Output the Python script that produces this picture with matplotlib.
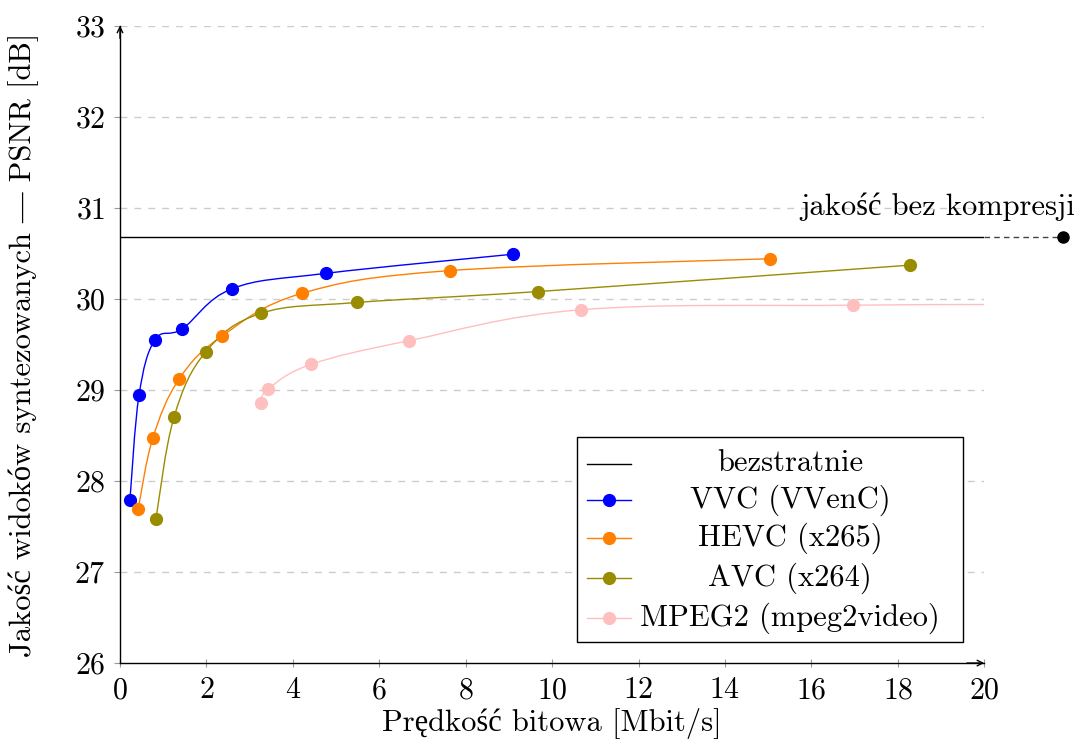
import numpy as np
import matplotlib
matplotlib.use("Agg")
import matplotlib.pyplot as plt
from matplotlib.path import Path
from matplotlib.patches import PathPatch, Rectangle

plt.rcParams['font.family'] = ['cmr10', 'Liberation Serif']
plt.rcParams['mathtext.fontset'] = 'cm'
plt.rcParams['axes.formatter.use_mathtext'] = True
plt.rcParams['axes.unicode_minus'] = False

# data (Mbit/s, dB)
vvc_x = [0.23, 0.44, 0.81, 1.44, 2.59, 4.77, 9.10]
vvc_y = [27.79, 28.94, 29.55, 29.67, 30.11, 30.28, 30.49]
hevc_x = [0.42, 0.76, 1.37, 2.36, 4.21, 7.64, 15.05]
hevc_y = [27.69, 28.47, 29.12, 29.59, 30.06, 30.31, 30.44]
avc_x = [0.83, 1.25, 1.99, 3.26, 5.49, 9.68, 18.29]
avc_y = [27.58, 28.70, 29.42, 29.84, 29.96, 30.08, 30.37]
mpeg2_x = [3.26, 3.43, 4.42, 6.69, 10.67, 16.97, 23.0]
mpeg2_y = [28.86, 29.01, 29.28, 29.54, 29.88, 29.93, 29.94]
lossless_y = 30.68
lossless_x = 21.83

series = [
    ("VVC (VVenC)", vvc_x, vvc_y, '#0000ff'),
    ("HEVC (x265)", hevc_x, hevc_y, '#ff7f00'),
    ("AVC (x264)", avc_x, avc_y, '#9a8c00'),
    ("MPEG2 (mpeg2video)", mpeg2_x, mpeg2_y, '#ffbfbf'),
]


def smooth_path(x, y, k=0.18):
    p = np.column_stack([x, y])
    n = len(p)
    verts = [p[0]]
    codes = [Path.MOVETO]
    for i in range(n - 1):
        d0 = p[i + 1] - p[i - 1] if i > 0 else p[i + 1] - p[i]
        d1 = p[i + 2] - p[i] if i < n - 2 else p[i + 1] - p[i]
        verts += [p[i] + k * d0, p[i + 1] - k * d1, p[i + 1]]
        codes += [Path.CURVE4] * 3
    return Path(verts, codes)


fig = plt.figure(figsize=(10.83, 7.45), dpi=100)
ax = fig.add_axes([0.1108, 0.110, 0.798, 0.8556])
ax.set_xlim(0, 20)
ax.set_ylim(26, 33)

for yv in range(27, 34):
    ax.axhline(yv, color='#cccccc', lw=1.0, ls=(0, (5, 5)), zorder=0)

# lossless reference
ax.plot([0, 20], [lossless_y, lossless_y], color='black', lw=1.0, zorder=2)
ax.plot([20, lossless_x], [lossless_y, lossless_y], color='#444444', lw=1.0,
        ls=(0, (4, 3)), clip_on=False, zorder=2)
ax.plot([lossless_x], [lossless_y], 'o', color='black', ms=8, clip_on=False, zorder=3)
ax.text(lossless_x + 0.28, lossless_y + 0.17, 'jakość bez kompresji', ha='right',
        va='bottom', fontsize=22)

for name, x, y, col in series:
    ax.add_patch(PathPatch(smooth_path(x, y), fc='none', ec=col, lw=1.0, zorder=3))
    ax.plot(x, y, 'o', color=col, ms=8.5, zorder=4)

# legend drawn by hand (text centred like pgfplots)
tr = ax.transAxes
ax.add_patch(Rectangle((0.529, 0.033), 0.446, 0.321, transform=tr, fc='white',
                       ec='black', lw=1.0, zorder=6, clip_on=False))
leg_labels = ['bezstratnie'] + [s[0] for s in series]
leg_colors = ['black'] + [s[3] for s in series]
leg_y = [0.313, 0.256, 0.196, 0.133, 0.071]
for i, (lab, col) in enumerate(zip(leg_labels, leg_colors)):
    ax.plot([0.540, 0.591], [leg_y[i], leg_y[i]], color=col, lw=1.0, transform=tr,
            zorder=7, clip_on=False)
    if i > 0:
        ax.plot([0.5655], [leg_y[i]], 'o', color=col, ms=8.5, transform=tr,
                zorder=8, clip_on=False)
    ax.text(0.7755, leg_y[i], lab, transform=tr, ha='center', va='center',
            fontsize=22, zorder=8)

for s in ['top', 'right']:
    ax.spines[s].set_visible(False)
ax.spines['left'].set_linewidth(1.0)
ax.spines['bottom'].set_linewidth(1.0)
ax.annotate('', xy=(1.0, 0), xytext=(0.98, 0), xycoords='axes fraction',
            arrowprops=dict(arrowstyle='->', lw=1.0, color='black', shrinkA=0, shrinkB=0))
ax.annotate('', xy=(0, 1.0), xytext=(0, 0.98), xycoords='axes fraction',
            arrowprops=dict(arrowstyle='->', lw=1.0, color='black', shrinkA=0, shrinkB=0))

ax.set_xticks(range(0, 21, 2))
ax.set_yticks(range(26, 34))
ax.tick_params(axis='x', direction='inout', length=6, width=0.8, color='#999999',
               labelsize=21.5, pad=7)
ax.tick_params(axis='y', direction='out', length=4.5, width=0.8, color='#999999',
               labelsize=21.5, pad=6)
ax.set_xlabel('Prędkość bitowa [Mbit/s]', fontsize=22)
ax.set_ylabel('Jakość widoków syntezowanych — PSNR [dB]', fontsize=22)
ax.xaxis.set_label_coords(0.5, -0.071)
ax.yaxis.set_label_coords(-0.094, 0.5)

fig.savefig('out.png', dpi=100)
